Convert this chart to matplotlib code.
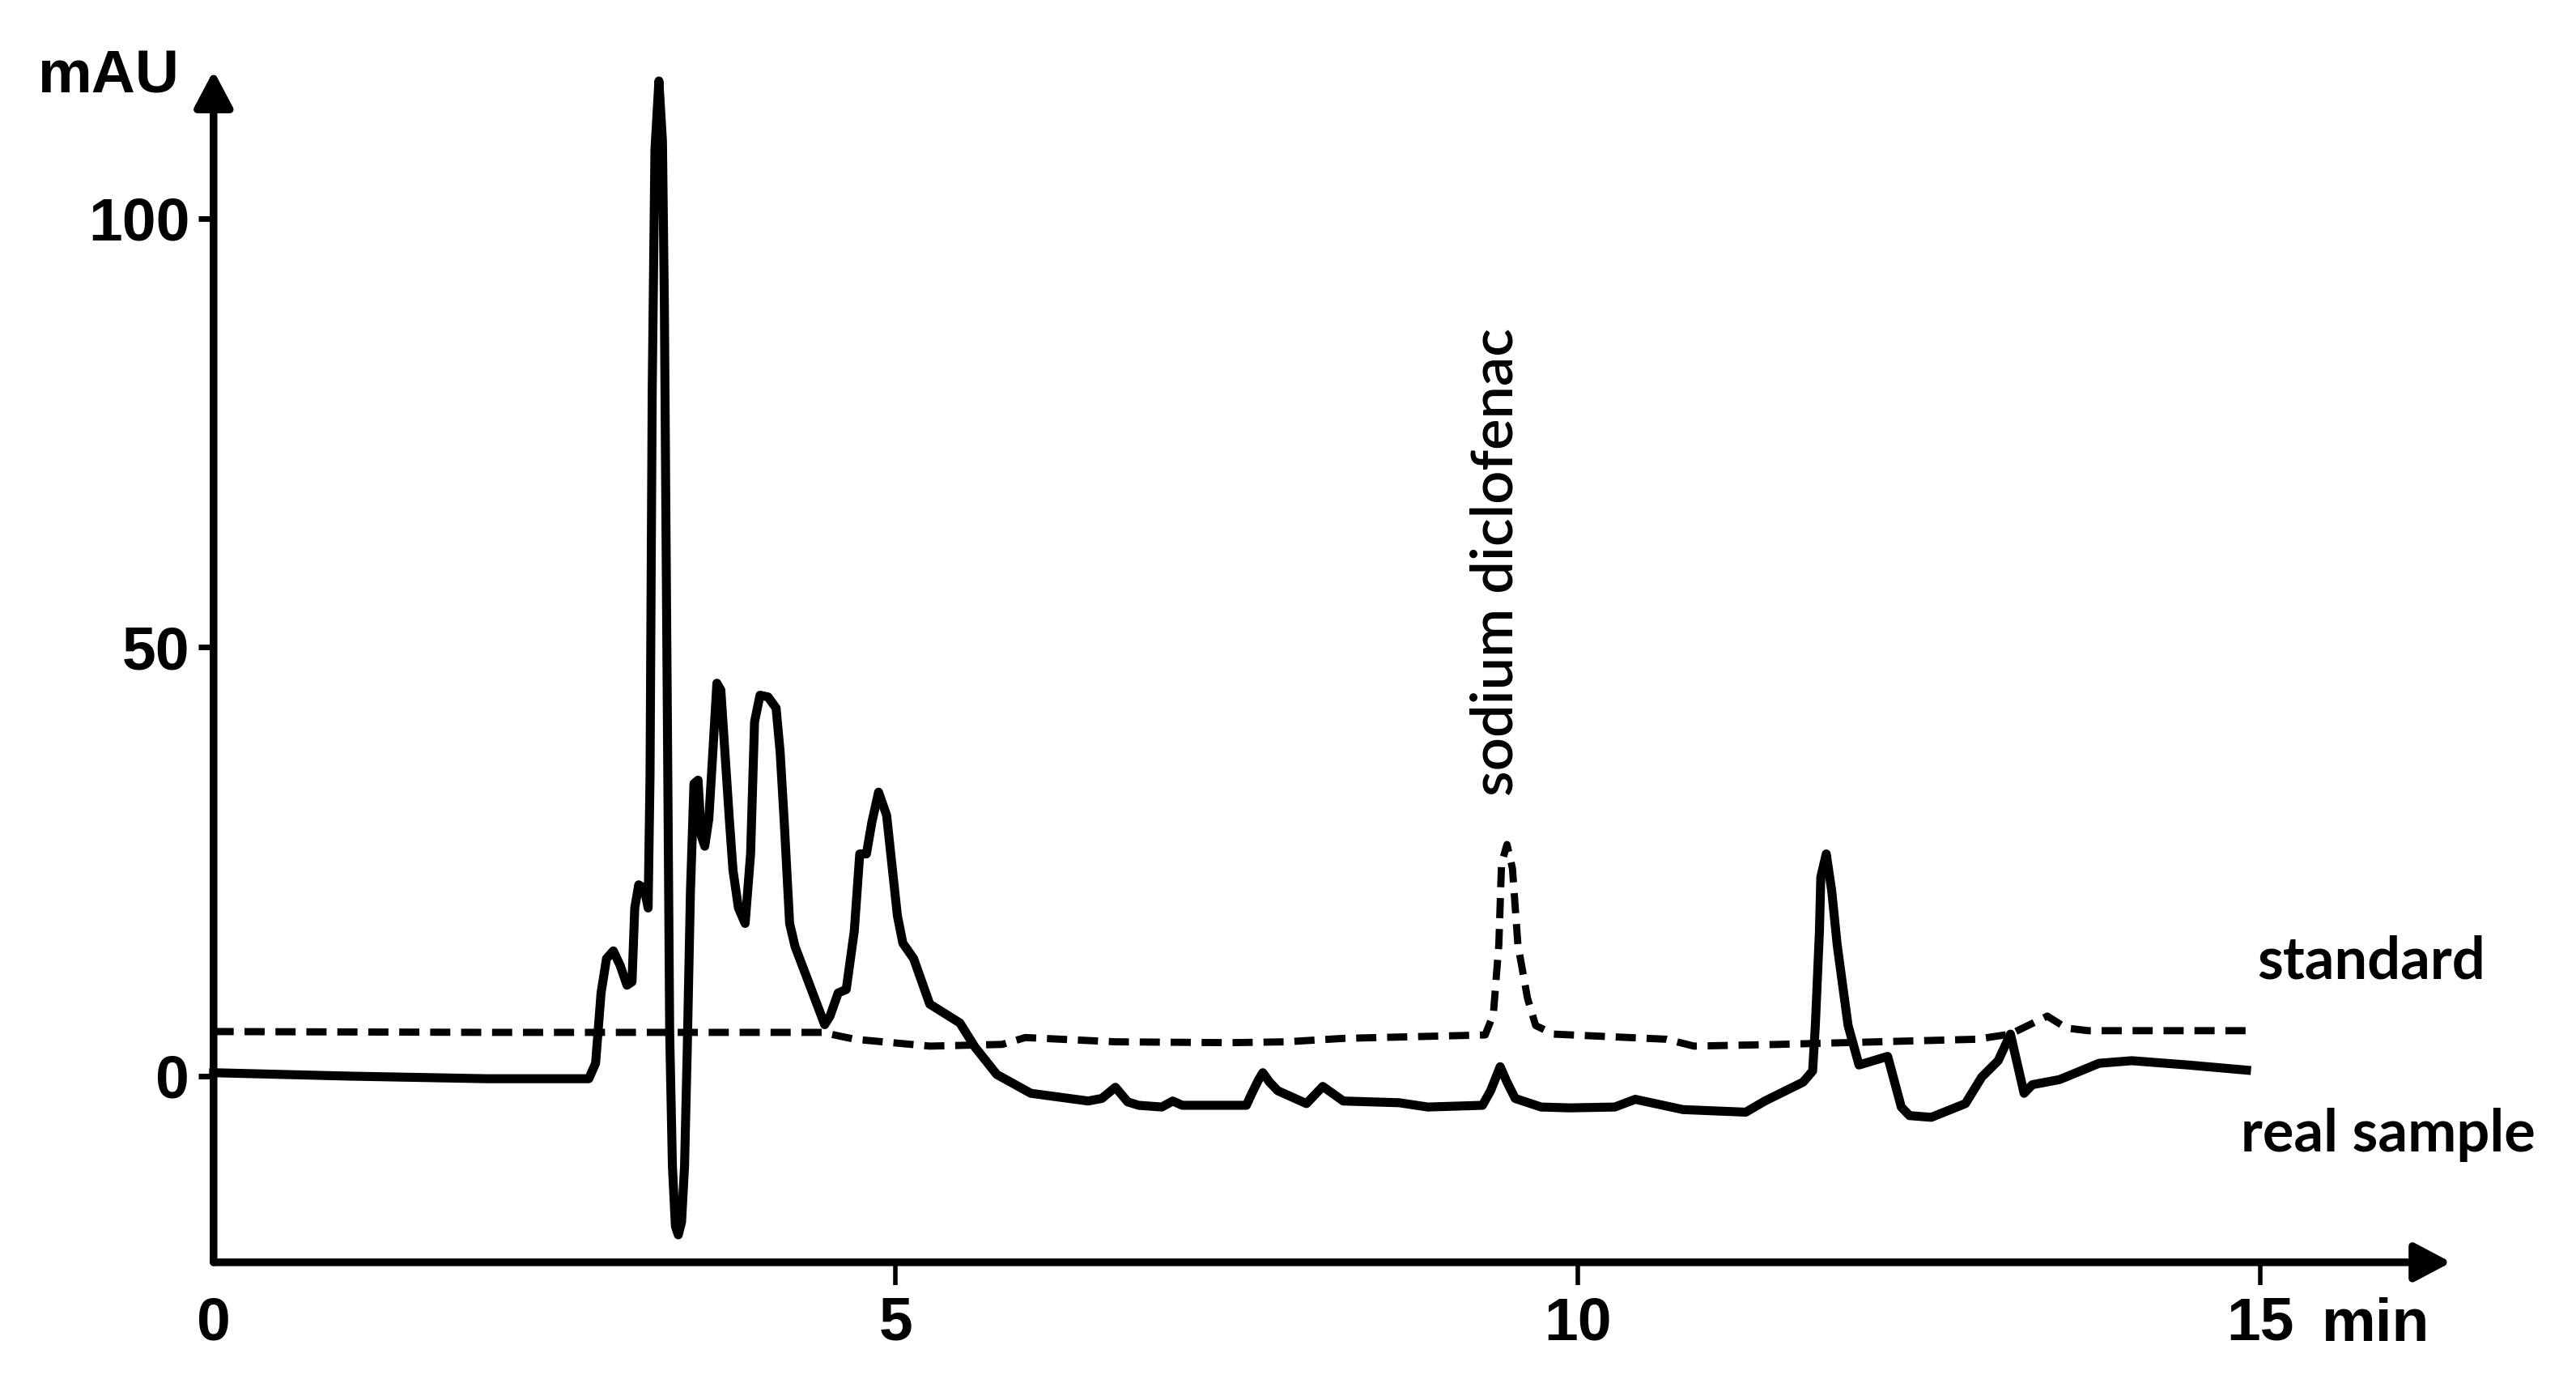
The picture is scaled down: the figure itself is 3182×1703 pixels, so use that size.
import matplotlib
matplotlib.use('Agg')
import matplotlib.pyplot as plt

# ---------------- data ----------------
# real sample (solid line)
sample_t = [0.00, 1.00, 2.00, 2.75, 2.80, 2.84, 2.88, 2.93, 2.98, 3.03, 3.067, 3.087, 3.116, 3.156,
            3.185, 3.199, 3.215, 3.235, 3.264, 3.29, 3.304, 3.323, 3.343, 3.363, 3.385, 3.406, 3.43,
            3.452, 3.472, 3.495, 3.521, 3.551, 3.575, 3.60, 3.63, 3.659, 3.689, 3.718, 3.748, 3.78,
            3.807, 3.847, 3.896, 3.936, 3.965, 4.005, 4.064, 4.123, 4.153, 4.183, 4.222, 4.262, 4.36,
            4.479, 4.518, 4.578, 4.637, 4.696, 4.736, 4.785, 4.825, 4.874, 4.933, 5.012, 5.052, 5.131,
            5.249, 5.47, 5.58, 5.74, 5.99, 6.41, 6.51, 6.61, 6.70, 6.78, 6.95, 7.03, 7.10, 7.57, 7.61,
            7.66, 7.69, 7.74, 7.80, 8.01, 8.13, 8.28, 8.69, 8.90, 9.30, 9.36, 9.43, 9.48, 9.54, 9.73,
            9.94, 10.27, 10.42, 10.77, 11.23, 11.37, 11.65, 11.72, 11.74, 11.77, 11.78, 11.82, 11.86,
            11.90, 11.98, 12.06, 12.27, 12.37, 12.43, 12.59, 12.84, 12.96, 13.08, 13.17, 13.27, 13.33,
            13.53, 13.82, 14.06, 14.47, 14.90]
sample_v = [0.4, 0.0, -0.3, -0.3, 1.5, 9.7, 13.7, 14.6, 12.9, 10.6, 11.0, 19.6, 22.3, 21.9,
            19.6, 35.0, 80.0, 108.0, 116.0, 109.0, 90.0, 48.5, 5.1, -10.5, -17.5, -18.5, -17.0,
            -10.5, 3.3, 21.4, 34.1, 34.5, 28.0, 26.8, 30.0, 37.7, 45.8, 45.0, 37.7, 30.0,
            24.0, 19.6, 17.8, 25.9, 41.3, 44.4, 44.2, 42.9, 37.7, 29.5, 17.8, 15.1, 11.0,
            6.0, 7.0, 9.7, 10.1, 16.9, 25.9, 25.9, 29.6, 33.1, 30.4, 18.7, 15.5, 13.7,
            8.4, 6.2, 3.4, 0.2, -2.0, -2.9, -2.6, -1.3, -3.0, -3.4, -3.6, -2.9, -3.4, -3.4, -2.0,
            -0.4, 0.4, -0.7, -1.7, -3.2, -1.2, -2.9, -3.1, -3.6, -3.4, -1.7, 1.1, -0.7, -2.6, -3.6,
            -3.7, -3.6, -2.7, -3.9, -4.2, -2.9, -0.7, 0.6, 5.9, 16.9, 23.2, 25.9, 21.6,
            15.3, 5.9, 1.3, 2.3, -3.6, -4.6, -4.8, -3.2, -0.1, 1.8, 4.9, -2.0, -1.0,
            -0.4, 1.5, 1.8, 1.3, 0.7]

# standard (dashed line)
std_t = [0.00, 2.00, 4.46, 4.70, 5.25, 5.78, 5.95, 6.61, 7.45, 7.86, 8.28, 9.32, 9.38, 9.42, 9.44,
         9.48, 9.52, 9.56, 9.63, 9.69, 9.82, 10.65, 10.85, 11.47, 12.92, 13.17, 13.44, 13.58,
         13.74, 14.90]
std_v = [5.2, 5.1, 5.1, 4.3, 3.5, 3.7, 4.5, 4.0, 3.9, 4.0, 4.4, 4.8, 7.2, 15.3, 24.8,
         27.0, 24.2, 15.3, 9.1, 5.9, 4.9, 4.3, 3.5, 3.7, 4.3, 4.9, 7.0, 5.6,
         5.3, 5.3]

x_ticks = [0, 5, 10, 15]
y_ticks = [0, 50, 100]

# ---------------- figure ----------------
plt.rcParams['font.family'] = ['Liberation Sans', 'DejaVu Sans']

fig = plt.figure(figsize=(15.91, 8.515), dpi=200)
ax = fig.add_axes([130 / 1568, 1 - 768 / 839, (1492 - 130) / 1568, (768 - 43) / 839])

ax.plot(sample_t, sample_v, color='black', lw=4.0, solid_joinstyle='round', clip_on=False)
ax.plot(std_t, std_v, color='black', lw=3.2, dashes=(2.8, 1.5), clip_on=False)

ax.set_xlim(0, 16.4)
ax.set_ylim(-21.7, 117.2)

for s in ax.spines.values():
    s.set_visible(False)

# axes with arrow heads
arrow_kw = dict(arrowstyle='-|>,head_length=0.68,head_width=0.36', lw=3.4, color='black',
                mutation_scale=20, shrinkA=0, shrinkB=0)
ax.annotate('', xy=(1, 0), xytext=(0, 0), xycoords='axes fraction', arrowprops=arrow_kw)
ax.annotate('', xy=(0, 1), xytext=(0, 0), xycoords='axes fraction', arrowprops=arrow_kw)

ax.set_xticks(x_ticks)
ax.set_yticks(y_ticks)
ax.set_xticklabels([str(v) for v in x_ticks], fontweight='bold')
ax.set_yticklabels([str(v) for v in y_ticks], fontweight='bold')
ax.tick_params(axis='x', length=10, width=2, pad=5, labelsize=27)
ax.tick_params(axis='y', length=7, width=2.5, pad=3.6, labelsize=27)
ax.xaxis.get_major_ticks()[0].tick1line.set_visible(False)

ax.text(-0.25, 116.5, 'mAU', ha='right', va='center', fontsize=27, fontweight='bold', clip_on=False)
ax.text(15.45, -30.9, 'min', ha='left', va='baseline', fontsize=27, fontweight='bold', clip_on=False)

ax.text(9.52, 59.9, 'sodium diclofenac', rotation=90, rotation_mode='anchor', ha='center',
        va='baseline', fontsize=26, fontweight='semibold', family=['Lato', 'DejaVu Sans'])
ax.text(14.98, 11.4, 'standard', ha='left', va='baseline', fontsize=26, fontweight='bold',
        family=['Lato', 'DejaVu Sans'], clip_on=False)
ax.text(14.86, -8.8, 'real sample', ha='left', va='baseline', fontsize=26, fontweight='bold',
        family=['Lato', 'DejaVu Sans'], clip_on=False)

fig.savefig('out.png', dpi=200)
